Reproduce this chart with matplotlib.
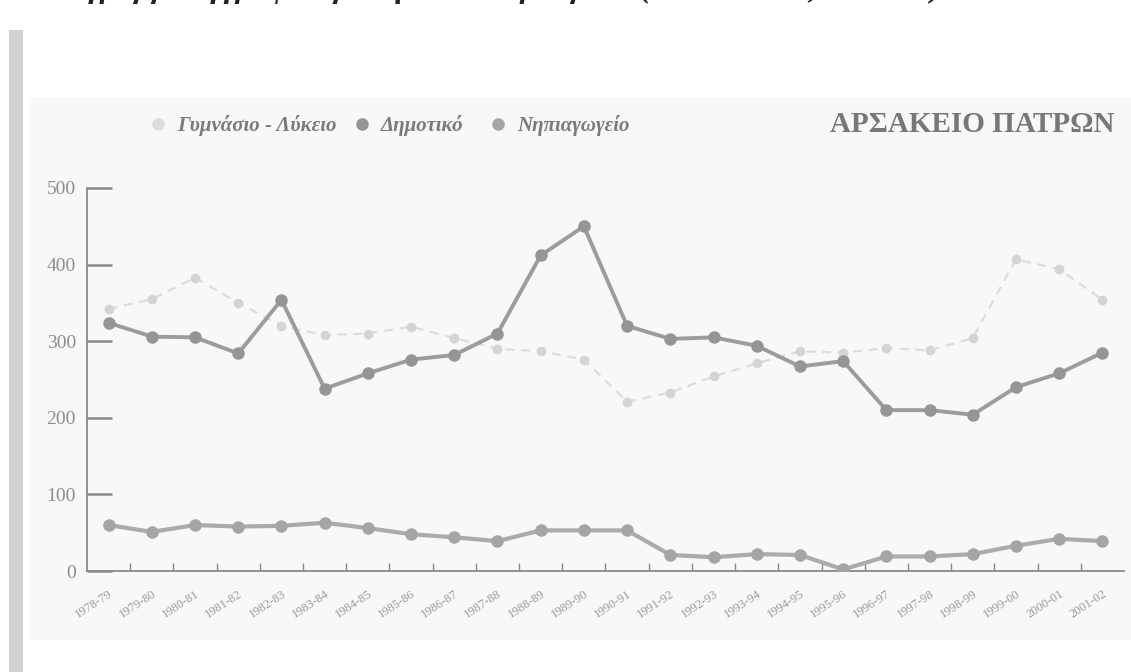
import numpy as np
import matplotlib.pyplot as plt
from matplotlib.patches import Rectangle
from matplotlib.lines import Line2D

years = ['1978-79', '1979-80', '1980-81', '1981-82', '1982-83', '1983-84',
         '1984-85', '1985-86', '1986-87', '1987-88', '1988-89', '1989-90',
         '1990-91', '1991-92', '1992-93', '1993-94', '1994-95', '1995-96',
         '1996-97', '1997-98', '1998-99', '1999-00', '2000-01', '2001-02']

# values
gymnasio = [342, 355, 383, 350, 320, 308, 310, 319, 304, 290, 287, 276,
            221, 233, 254, 271, 287, 285, 291, 288, 304, 407, 394, 354]
dimotiko = [324, 306, 305, 284, 354, 238, 258, 276, 282, 310, 412, 450,
            320, 303, 305, 294, 267, 274, 210, 210, 204, 240, 258, 285]
nipiagogeio = [60, 51, 60, 58, 59, 63, 56, 48, 44, 39, 53, 53,
               53, 21, 18, 22, 21, 2, 19, 19, 22, 33, 42, 39]

series_names = ['Γυμνάσιο - Λύκειο', 'Δημοτικό', 'Νηπιαγωγείο']

serif = ['Liberation Serif', 'DejaVu Serif']

fig = plt.figure(figsize=(11.31, 6.72), dpi=100)
W, H = 1131, 672

# scanned page: light panel and grey edge on the left
fig.patches.append(Rectangle((30 / W, (H - 640) / H), 1 - 30 / W, (640 - 97) / H,
                             transform=fig.transFigure, facecolor='#f8f8f8',
                             edgecolor='none', zorder=-2))
fig.patches.append(Rectangle((9 / W, 0), 14 / W, (H - 30) / H,
                             transform=fig.transFigure, facecolor='#d2d2d2',
                             edgecolor='none', zorder=-2))

# heading cut off at the top of the scan
fig.text(40 / W, 1 + 3 / H, 'Διάγραμμα εγγραφών μαθητών ανά βαθμίδα (1978-79 έως 2001-02)',
         family=serif, fontsize=23, fontweight='bold', style='italic',
         color='#222222', va='baseline', ha='left')

ax = fig.add_axes([87 / W, (H - 571) / H, (1124 - 87) / W, (571 - 188) / H])
ax.set_facecolor('none')
ax.set_zorder(2)

x = np.arange(len(years))
ax.plot(x, gymnasio, color='#dcdcdc', lw=1.6, ls=(0, (4, 3)), marker='o',
        ms=6, mec='#d4d4d4', mfc='#d4d4d4', zorder=2)
ax.plot(x, nipiagogeio, color='#ababab', lw=3, marker='o', ms=8,
        mec='#a5a5a5', mfc='#a5a5a5', zorder=3)
ax.plot(x, dimotiko, color='#9c9c9c', lw=2.8, marker='o', ms=8,
        mec='#959595', mfc='#959595', zorder=4)

ax.set_xlim(-0.5, 23.5)
ax.set_ylim(0, 500)

for s in ['top', 'right']:
    ax.spines[s].set_visible(False)
for s in ['left', 'bottom']:
    ax.spines[s].set_color('#8a8a8a')
    ax.spines[s].set_linewidth(1.3)

ax.set_yticks([0, 100, 200, 300, 400, 500])
ax.tick_params(axis='y', direction='in', length=18, width=1.8, color='#8a8a8a',
               pad=8, labelsize=14, labelcolor='#8c8c8c')
ax.set_xticks(x)
ax.set_xticklabels(years, rotation=33, ha='right', rotation_mode='anchor',
                   fontsize=9, color='#9a9a9a', family=serif)
ax.tick_params(axis='x', length=0, pad=12)
ax.set_xticks(x[:-1] + 0.5, minor=True)
ax.tick_params(axis='x', which='minor', direction='in', length=6, width=1,
               color='#8a8a8a')
for lab in ax.get_yticklabels():
    lab.set_family(serif)

# legend along the top, one entry at a time like in the print
leg_x = [148, 352, 488]
leg_colors = ['#dcdcdc', '#959595', '#a5a5a5']
for name, c, lx in zip(series_names, leg_colors, leg_x):
    h = Line2D([], [], ls='none', marker='o', ms=8, mfc=c, mec=c)
    leg = fig.legend([h], [name], loc='center left',
                     bbox_to_anchor=(lx / W, 1 - 126 / H), frameon=False,
                     handletextpad=0.4, handlelength=1.0, borderpad=0,
                     borderaxespad=0,
                     prop={'family': serif, 'style': 'italic', 'weight': 'bold',
                           'size': 15})
    for t in leg.get_texts():
        t.set_color('#7a7a7a')

fig.text(1115 / W, 1 - 124 / H, 'ΑΡΣΑΚΕΙΟ ΠΑΤΡΩΝ', family=serif, fontsize=21,
         fontweight='bold', color='#777777', ha='right', va='center')

fig.savefig('out.png', dpi=100)
